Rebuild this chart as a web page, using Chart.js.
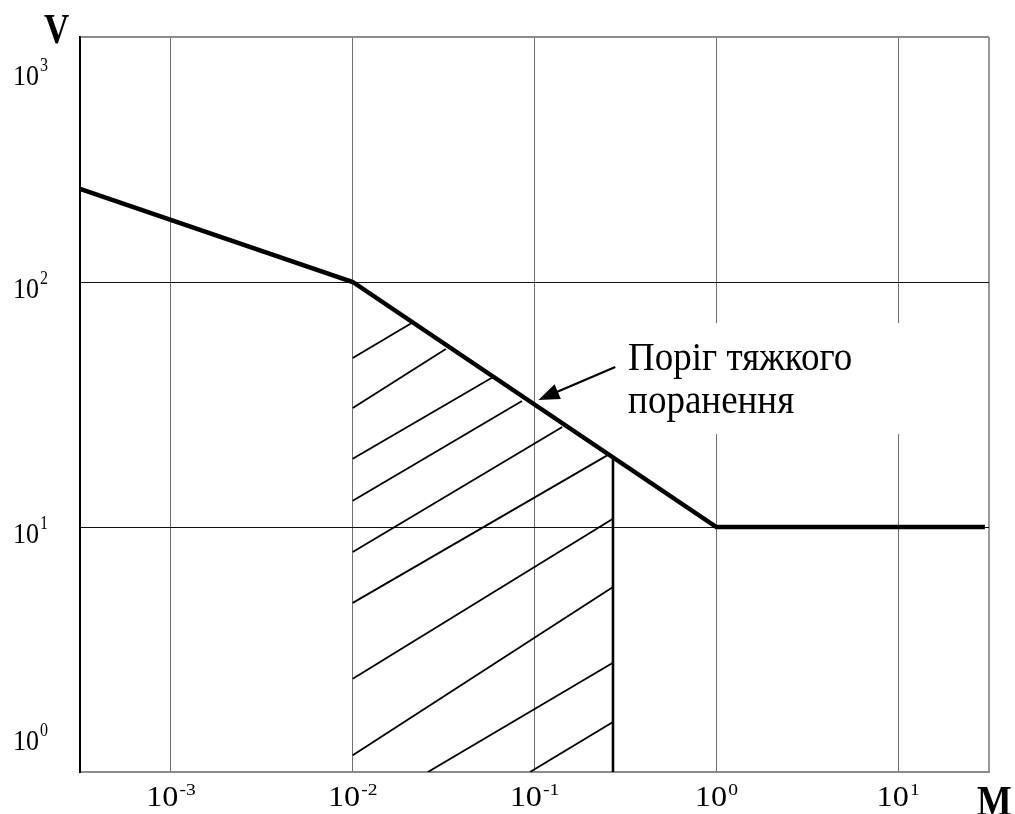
<!DOCTYPE html>
<html>
<head>
<meta charset="utf-8">
<script src="https://cdn.jsdelivr.net/npm/chart.js@4/dist/chart.umd.min.js"></script>
<style>
html, body { margin: 0; padding: 0; background: #fff; }
#wrap { width: 1015px; height: 814px; }
</style>
</head>
<body>
<div id="wrap"><canvas id="chart" width="1015" height="814"></canvas></div>
<script>
// axis ranges (log scales)
const xMin = 0.000316, xMax = 31.6;
const yMin = 1, yMax = 1000;
const xTicks = [0.001, 0.01, 0.1, 1, 10];
const yTicks = [1, 10, 100, 1000];
const xExponents = ['-3', '-2', '-1', '0', '1'];
const yExponents = ['0', '1', '2', '3'];

// threshold curve
const curveX = [0.000316, 0.01, 1, 30];
const curveY = [240, 100, 10, 10];

// right edge of the hatched zone
const edgeX = [0.27, 0.27];
const edgeY = [19.2, 1];

// hatch strokes (start -> end)
const hatchStartX = [0.01, 0.01, 0.01, 0.01, 0.01, 0.01, 0.01, 0.01, 0.0259, 0.0944];
const hatchStartY = [49, 30.6, 19.0, 12.8, 7.9, 4.9, 2.40, 1.17, 1, 1];
const hatchEndX = [0.0211, 0.0325, 0.0605, 0.0853, 0.142, 0.251, 0.27, 0.27, 0.27, 0.27];
const hatchEndY = [68, 53.3, 41.3, 32.7, 25.6, 19.6, 10.8, 5.69, 2.79, 1.60];

// annotation
const noteLines = ['Поріг тяжкого', 'поранення'];
const notePos = [0.327, 43.7];
const arrowFrom = [0.278, 45];
const arrowTo = [0.105, 33];

const serif = '"Liberation Serif", "Times New Roman", serif';

const datasets = [{
    data: curveX.map((x, i) => ({ x: x, y: curveY[i] })),
    borderColor: '#000',
    borderWidth: 4.5,
    borderJoinStyle: 'miter'
}, {
    data: edgeX.map((x, i) => ({ x: x, y: edgeY[i] })),
    borderColor: '#000',
    borderWidth: 2.6
}];
hatchStartX.forEach((x, i) => {
    datasets.push({
        data: [{ x: x, y: hatchStartY[i] }, { x: hatchEndX[i], y: hatchEndY[i] }],
        borderColor: '#000',
        borderWidth: 1.8
    });
});

// draws "10" with a raised exponent
function drawPow(ctx, x, base, exp, align, o) {
    ctx.font = o.size + 'px ' + serif;
    const w1 = ctx.measureText('10').width;
    ctx.font = o.expSize + 'px ' + serif;
    const w2 = ctx.measureText(exp).width;
    const total = (w1 + 1 + w2) * o.sx;
    const left = align === 'right' ? x - total : x - total / 2;
    ctx.save();
    ctx.translate(left, base);
    ctx.scale(o.sx, o.sy);
    ctx.fillStyle = '#000';
    ctx.textBaseline = 'alphabetic';
    ctx.textAlign = 'left';
    ctx.font = o.size + 'px ' + serif;
    ctx.fillText('10', 0, 0);
    ctx.font = o.expSize + 'px ' + serif;
    ctx.fillText(exp, w1 + 1, -o.raise);
    ctx.restore();
}

function drawText(ctx, text, x, base, font, sx, sy) {
    ctx.save();
    ctx.translate(x, base);
    ctx.scale(sx, sy);
    ctx.font = font;
    ctx.fillStyle = '#000';
    ctx.textAlign = 'left';
    ctx.textBaseline = 'alphabetic';
    ctx.fillText(text, 0, 0);
    ctx.restore();
}

const labelsPlugin = {
    id: 'labels',
    afterDatasetsDraw(chart) {
        const ctx = chart.ctx;
        const xs = chart.scales.x, ys = chart.scales.y;
        const area = chart.chartArea;

        // annotation with white backing that breaks the grid
        const tx = xs.getPixelForValue(notePos[0]);
        const ty = ys.getPixelForValue(notePos[1]);
        ctx.save();
        ctx.fillStyle = '#fff';
        ctx.fillRect(tx - 8, ty - 47, 285, 111);
        ctx.restore();
        drawText(ctx, noteLines[0], tx, ty, '37px ' + serif, 1, 1.06);
        drawText(ctx, noteLines[1], tx, ty + 43, '37px ' + serif, 1, 1.06);

        const ax = xs.getPixelForValue(arrowFrom[0]), ay = ys.getPixelForValue(arrowFrom[1]);
        const bx = xs.getPixelForValue(arrowTo[0]), by = ys.getPixelForValue(arrowTo[1]);
        const ang = Math.atan2(by - ay, bx - ax);
        const headLen = 21, headW = 8;
        ctx.save();
        ctx.strokeStyle = '#000';
        ctx.lineWidth = 2.2;
        ctx.beginPath();
        ctx.moveTo(ax, ay);
        ctx.lineTo(bx - Math.cos(ang) * headLen * 0.8, by - Math.sin(ang) * headLen * 0.8);
        ctx.stroke();
        ctx.fillStyle = '#000';
        ctx.beginPath();
        ctx.moveTo(bx, by);
        ctx.lineTo(bx - Math.cos(ang) * headLen - Math.sin(ang) * headW, by - Math.sin(ang) * headLen + Math.cos(ang) * headW);
        ctx.lineTo(bx - Math.cos(ang) * headLen + Math.sin(ang) * headW, by - Math.sin(ang) * headLen - Math.cos(ang) * headW);
        ctx.closePath();
        ctx.fill();
        ctx.restore();

        // tick labels
        yTicks.forEach((v, i) => {
            const p = ys.getPixelForValue(v);
            const base = Math.min(Math.max(p + 16, area.top + 48), area.bottom - 22);
            drawPow(ctx, 48, base, yExponents[i], 'right', { size: 26, expSize: 16, sx: 1, sy: 1.14, raise: 12 });
        });
        xTicks.forEach((v, i) => {
            const p = xs.getPixelForValue(v);
            drawPow(ctx, p, area.bottom + 34, xExponents[i], 'center', { size: 28, expSize: 17, sx: 1.15, sy: 1.04, raise: 11 });
        });

        // axis names
        drawText(ctx, 'V', 44, 43, 'bold 35px ' + serif, 1, 1.18);
        drawText(ctx, 'M', 977, 815, 'bold 35px ' + serif, 1.05, 1.18);
    }
};

new Chart(document.getElementById('chart'), {
    type: 'scatter',
    data: { datasets: datasets },
    options: {
        responsive: false,
        animation: false,
        showLine: true,
        elements: { point: { radius: 0 }, line: { tension: 0, fill: false } },
        layout: { padding: { left: 80, top: 37, right: 26, bottom: 42 } },
        plugins: { legend: { display: false }, tooltip: { enabled: false } },
        scales: {
            x: {
                type: 'logarithmic',
                bounds: 'data',
                min: xMin,
                max: xMax,
                afterBuildTicks: s => { s.ticks = xTicks.concat([xMax]).map(v => ({ value: v })); },
                ticks: { display: false },
                grid: {
                    drawTicks: false,
                    color: c => (c.tick && c.tick.value === xMax) ? '#9a9a9a' : '#6e6e6e',
                    lineWidth: c => (c.tick && c.tick.value === xMax) ? 2 : 1
                },
                border: { color: '#8c8c8c', width: 2 }
            },
            y: {
                type: 'logarithmic',
                bounds: 'data',
                min: yMin,
                max: yMax,
                afterBuildTicks: s => { s.ticks = yTicks.map(v => ({ value: v })); },
                ticks: { display: false },
                grid: {
                    drawTicks: false,
                    color: c => (c.tick && (c.tick.value === yMax || c.tick.value === yMin)) ? '#8c8c8c' : '#111',
                    lineWidth: c => (c.tick && c.tick.value === yMax) ? 2 : 1
                },
                border: { color: '#000', width: 2 }
            }
        }
    },
    plugins: [labelsPlugin]
});
</script>
</body>
</html>
